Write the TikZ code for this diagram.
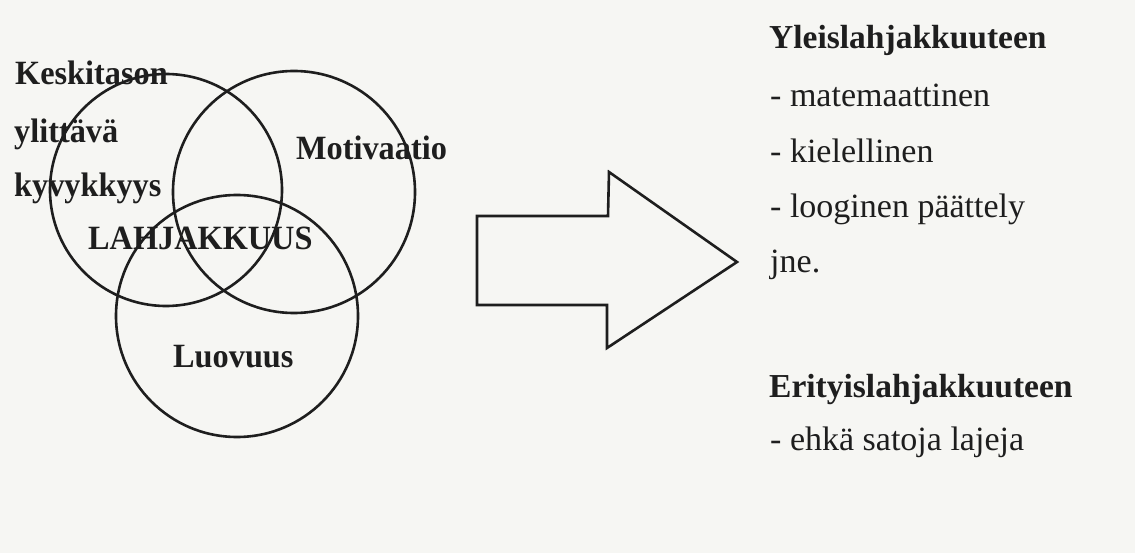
\documentclass[tikz,border=0pt]{standalone}
\usepackage{fontspec}
\setmainfont{Liberation Serif}
\newfontfamily\leftfont[FakeStretch=0.95]{Liberation Serif}
\definecolor{paper}{RGB}{246,246,243}
\definecolor{ink}{RGB}{30,30,30}
\begin{document}
\begin{tikzpicture}[x=1pt,y=-1pt,
  ring/.style={circle,draw=ink,line width=2.6pt,inner sep=0pt},
  lbl/.style={anchor=base west,inner sep=0pt,text=ink,font=\leftfont\fontsize{34}{34}\selectfont\bfseries},
  rhead/.style={anchor=base west,inner sep=0pt,text=ink,font=\fontsize{33.5}{33.5}\selectfont\bfseries},
  ritem/.style={anchor=base west,inner sep=0pt,text=ink,font=\fontsize{34}{34}\selectfont}]
\fill[paper] (0,0) rectangle (1135,553);
\useasboundingbox (0,0) rectangle (1135,553);
% circles
\node[ring,minimum size=232pt] (c1) at (166,190) {};
\node[ring,minimum size=242pt] (c2) at (294,192) {};
\node[ring,minimum size=242pt] (c3) at (237,316) {};
% left labels
\node[lbl] (k1) at (15,84.5) {Keskitason};
\node[lbl] (k2) at (14,143) {ylittävä};
\node[lbl] (k3) at (14,197) {kyvykkyys};
\node[lbl] (mot) at (296,160) {Motivaatio};
\node[lbl] (lah) at (88,250) {LAHJAKKUUS};
\node[lbl] (luo) at (173,367) {Luovuus};
% big arrow
\draw[draw=ink,line width=2.6pt,line join=miter]
  (477,216) -- (608,216) -- (609,172) -- (737,262) -- (607,348) -- (607,305) -- (477,305) -- cycle;
% right texts
\node[rhead] (yl) at (769,48.5) {Yleislahjakkuuteen};
\node[ritem] (i1) at (770,107) {- matemaattinen};
\node[ritem] (i2) at (770,163) {- kielellinen};
\node[ritem] (i3) at (770,218) {- looginen päättely};
\node[ritem] (i4) at (770,273) {jne.};
\node[rhead] (er) at (769,397) {Erityislahjakkuuteen};
\node[ritem] (i5) at (770,450) {- ehkä satoja lajeja};
\end{tikzpicture}
\end{document}
